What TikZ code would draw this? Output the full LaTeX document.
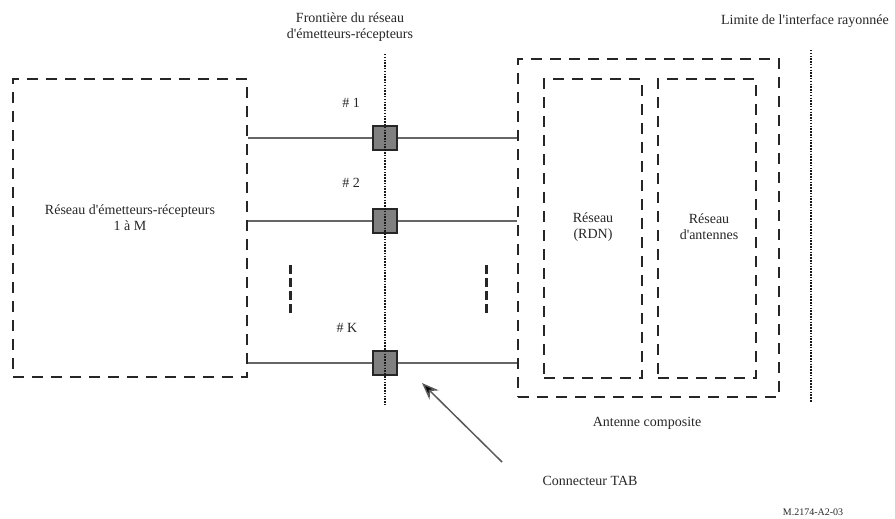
\documentclass[tikz,border=0pt]{standalone}
\usepackage{fontspec}
\setmainfont{Liberation Serif}
\usetikzlibrary{arrows.meta}
\begin{document}
\begin{tikzpicture}[x=1pt,y=-1pt,
  dbox/.style={draw=black!85, line width=2.4pt, dash pattern=on 11pt off 8pt, rectangle, inner sep=0pt},
  conn/.style={draw=black!60, line width=2.5pt},
  tab/.style={rectangle, draw=black!85, fill=black!50, line width=1.3pt, minimum width=24pt, minimum height=24pt, inner sep=0pt},
  dotline/.style={draw=black!90, line width=2.5pt, dash pattern=on 1.5pt off 1.3pt},
  shortdash/.style={draw=black!85, line width=3pt, dash pattern=on 9pt off 4pt},
  lbl/.style={font=\fontsize{14}{16}\selectfont, align=center, text=black!85, inner sep=0pt},
  ptr/.style={draw=black!65, line width=1.5pt, -{Stealth[length=17pt,width=13pt,fill=black]}}
]
\useasboundingbox (0,0) rectangle (895,519);

% boxes
\node[dbox, minimum width=234pt, minimum height=298pt] (trx) at (130,228) {};
\node[dbox, minimum width=261pt, minimum height=338pt] (comp) at (648.5,228) {};
\node[dbox, minimum width=98pt, minimum height=299pt] (rdn) at (593,228.5) {};
\node[dbox, minimum width=98pt, minimum height=299pt] (ant) at (707,228.5) {};

% TAB connectors
\node[tab] (c1) at (385,138) {};
\node[tab] (c2) at (385,221) {};
\node[tab] (cK) at (385,363) {};

\foreach \c in {c1,c2,cK}{
  \draw[conn] (trx.east |- \c) -- (\c.west);
  \draw[conn] (\c.east) -- (comp.west |- \c);
}

% boundary lines
\coordinate (bt) at (385,54);
\coordinate (bb) at (385,405);
\draw[dotline] (bt) -- (bb);
\coordinate (rt) at (811,50);
\coordinate (rb) at (811,402);
\draw[dotline] (rt) -- (rb);

% ellipsis dashes
\coordinate (e1t) at (290,265);
\coordinate (e1b) at (290,315);
\draw[shortdash] (e1t) -- (e1b);
\coordinate (e2t) at (486,265);
\coordinate (e2b) at (486,315);
\draw[shortdash] (e2t) -- (e2b);

% arrow
\coordinate (arrtail) at (502,462);
\coordinate (arrtip) at (422,383);
\draw[ptr] (arrtail) -- (arrtip);

% labels
\node[lbl] (front) at (350,27) {Frontière du réseau\\d\textquotesingle émetteurs-récepteurs};
\node[lbl] (limite) at (805,21) {Limite de l\textquotesingle interface rayonnée};
\node[lbl] (n1) at (351,103) {\# 1};
\node[lbl] (n2) at (351,183) {\# 2};
\node[lbl] (nK) at (347,328) {\# K};
\node[lbl] (trxlbl) at (130,218) {Réseau d\textquotesingle émetteurs-récepteurs\\1 à M};
\node[lbl] (rdnlbl) at (593,227) {Réseau\\(RDN)};
\node[lbl] (antlbl) at (709,227) {Réseau\\d\textquotesingle antennes};
\node[lbl] (complbl) at (647,423) {Antenne composite};
\node[lbl] (tablbl) at (590,481) {Connecteur TAB};
\node[lbl, font=\fontsize{10}{12}\selectfont] (ref) at (813,512) {M.2174-A2-03};
\end{tikzpicture}
\end{document}
